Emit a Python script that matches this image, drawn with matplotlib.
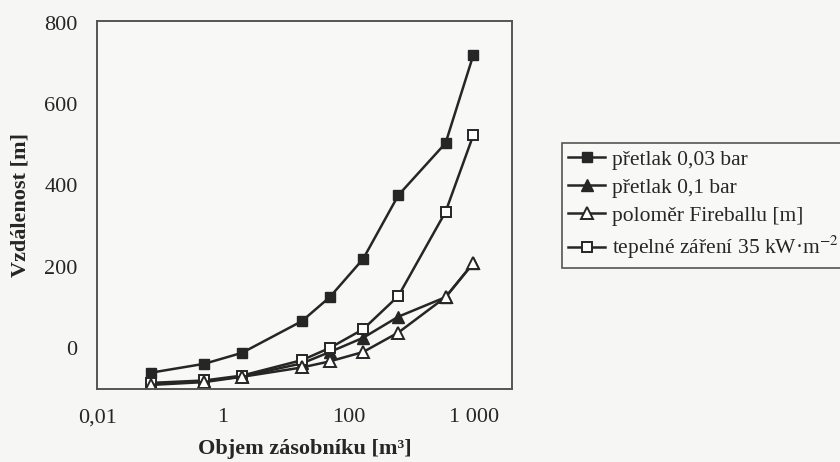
import matplotlib
matplotlib.use("Agg")
import matplotlib.pyplot as plt

plt.rcParams['font.family'] = ['Liberation Serif', 'DejaVu Serif']
plt.rcParams['mathtext.fontset'] = 'stix'

# objem zasobniku (position on the printed log axis)
objem = [0.07, 0.5, 2, 18, 50, 170, 620, 3500, 9700]

pretlak_003 = [-61, -39, -12, 66, 125, 219, 376, 504, 721]
pretlak_01 = [-89, -82, -70, -38, -10, 25, 77, 125, 209]
fireball = [-91, -84, -71, -48, -33, -10, 38, 125, 209]
zareni_35 = [-86, -80, -68, -30, 0, 46, 128, 335, 524]

x_ticks = [0.01, 1, 100, 10000]
x_tick_labels = ["0,01", "1", "100", "1 000"]
y_ticks = [0, 200, 400, 600, 800]

ink = "#262626"

fig = plt.figure(figsize=(8.4, 4.62), dpi=100, facecolor="#f6f6f5")
ax = fig.add_axes([0.1155, 0.158, 0.494, 0.797])
ax.set_facecolor("#f8f8f7")

ax.plot(objem, pretlak_003, color=ink, lw=1.8, marker="s", ms=7.5,
        mfc=ink, mec=ink, label="přetlak 0,03 bar")
ax.plot(objem, pretlak_01, color=ink, lw=1.8, marker="^", ms=8,
        mfc=ink, mec=ink, label="přetlak 0,1 bar")
ax.plot(objem, zareni_35, color=ink, lw=1.8, marker="s", ms=7.5,
        mfc="white", mec=ink, mew=1.4, label=r"tepelné záření 35 kW·m$^{-2}$")
ax.plot(objem, fireball, color=ink, lw=1.8, marker="^", ms=8,
        mfc="white", mec=ink, mew=1.4, label="poloměr Fireballu [m]")

ax.set_xscale("log")
ax.set_xlim(0.0098, 40000)
ax.set_ylim(-101, 805)
ax.set_xticks(x_ticks)
ax.set_xticklabels(x_tick_labels)
ax.minorticks_off()
ax.set_yticks(y_ticks)
ax.tick_params(length=0, labelsize=16, colors=ink, pad=14)

for s in ax.spines.values():
    s.set_color("#555555")
    s.set_linewidth(1.4)

ax.set_xlabel("Objem zásobníku [m³]", fontsize=16, fontweight="bold",
              color=ink, labelpad=8)
ax.set_ylabel("Vzdálenost [m]", fontsize=16, fontweight="bold",
              color=ink, labelpad=10)

h, l = ax.get_legend_handles_labels()
order = [0, 1, 3, 2]
leg = fig.legend([h[i] for i in order], [l[i] for i in order],
                 loc="upper left", bbox_to_anchor=(562 / 840, 1 - 143 / 462),
                 fontsize=15.5, frameon=True, fancybox=False,
                 edgecolor="#555555", facecolor="#f8f8f7", framealpha=1,
                 handlelength=1.7, handletextpad=0.3, labelspacing=0.38,
                 borderpad=0.3, borderaxespad=0)
leg.get_frame().set_linewidth(1.2)
for t in leg.get_texts():
    t.set_color(ink)

fig.savefig("out.png", dpi=100, facecolor=fig.get_facecolor())
